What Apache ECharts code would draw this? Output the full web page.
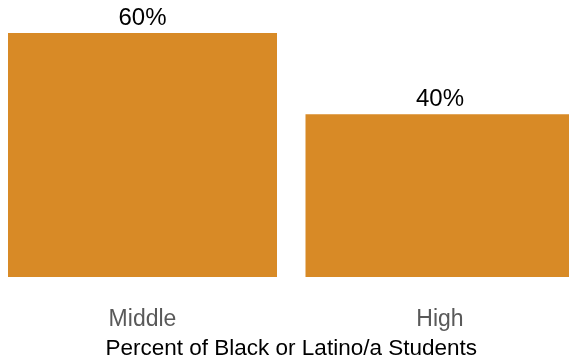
<!DOCTYPE html>
<html>
<head>
<meta charset="utf-8">
<script src="https://cdn.jsdelivr.net/npm/echarts@6/dist/echarts.min.js"></script>
<style>html,body{margin:0;padding:0;background:#fff;}#c{width:569px;height:360px;}</style>
</head>
<body>
<div id="c"></div>
<script>
const categories = ["Middle", "High"];
const values = [60, 40];
const axisTitle = "Percent of Black or Latino/a Students";

const chart = echarts.init(document.getElementById('c'), null, {renderer: 'canvas'});
chart.setOption({
  animation: false,
  grid: {left: -6.25, right: -19.75, top: 33, bottom: 83, containLabel: false, outerBoundsMode: 'none'},
  xAxis: {
    type: 'category',
    data: categories,
    axisLine: {show: false},
    axisTick: {show: false},
    axisLabel: {color: '#595959', fontSize: 23, fontFamily: 'Liberation Sans, Arial, sans-serif', margin: 31},
    name: axisTitle,
    nameLocation: 'middle',
    nameGap: 60,
    nameTextStyle: {color: '#000000', fontSize: 22.5, fontFamily: 'Liberation Sans, Arial, sans-serif'}
  },
  yAxis: {type: 'value', min: 0, max: 60, show: false, splitLine: {show: false}},
  series: [{
    type: 'bar',
    data: values,
    barWidth: 269,
    itemStyle: {color: '#D88A26'},
    label: {
      show: true,
      position: 'top',
      distance: 3,
      formatter: p => p.value + '%',
      color: '#000000',
      fontSize: 24,
      fontFamily: 'Liberation Sans, Arial, sans-serif'
    }
  }]
});
</script>
</body>
</html>
